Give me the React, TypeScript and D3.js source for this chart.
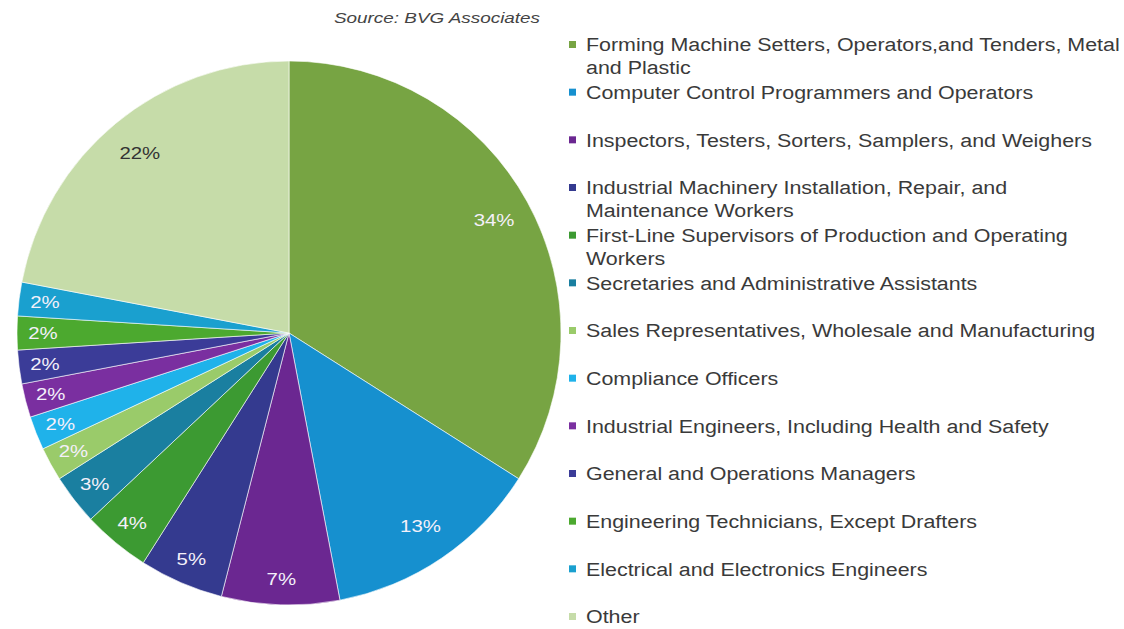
import * as d3 from 'd3';

const width = 1124;
const height = 629;
const cx = 289;
const cy = 333;
const radius = 272;
const stretch = 1.2; // source image is widened horizontally

const categories = [
  'Forming Machine Setters, Operators,and Tenders, Metal|and Plastic',
  'Computer Control Programmers and Operators',
  'Inspectors, Testers, Sorters, Samplers, and Weighers',
  'Industrial Machinery Installation, Repair, and|Maintenance Workers',
  'First-Line Supervisors of Production and Operating|Workers',
  'Secretaries and Administrative Assistants',
  'Sales Representatives, Wholesale and Manufacturing',
  'Compliance Officers',
  'Industrial Engineers, Including Health and Safety',
  'General and Operations Managers',
  'Engineering Technicians, Except Drafters',
  'Electrical and Electronics Engineers',
  'Other',
];
const shares = [34, 13, 7, 5, 4, 3, 2, 2, 2, 2, 2, 2, 22];
const colors = [
  '#77a443', '#1690cf', '#6b2791', '#343a8f', '#3c9a32', '#1a7fa0',
  '#9acb6a', '#1fb2ea', '#7a2fa0', '#3b3c98', '#4ca92f', '#1aa0cf', '#c6dca9',
];

type Item = { name: string; value: number; color: string };
const items: Item[] = categories.map((name, i) => ({ name, value: shares[i], color: colors[i] }));

export default function App() {
  const pie = d3.pie<Item>().value(d => d.value).sort(null);
  const arcs = pie(items);
  const arc = d3.arc<d3.PieArcDatum<Item>>().innerRadius(0).outerRadius(radius);
  const bigLabel = d3.arc<d3.PieArcDatum<Item>>().innerRadius(234).outerRadius(234);
  const smallLabel = d3.arc<d3.PieArcDatum<Item>>().innerRadius(246).outerRadius(246);

  const legendY = d3.scaleLinear().domain([0, categories.length - 1]).range([45, 617]);

  return (
    <svg width={width} height={height} style={{ position: 'absolute', left: 0, top: 0, background: '#fff' }}
      fontFamily="'Liberation Sans', Arial, sans-serif">
      <text transform={`translate(437,23) scale(${stretch + 0.06},1)`} textAnchor="middle"
        fontStyle="italic" fontSize={15} fill="#444">
        Source: BVG Associates
      </text>
      <g transform={`translate(${cx},${cy})`}>
        {arcs.map((a, i) => (
          <path key={i} d={arc(a) || ''} fill={a.data.color} stroke="#fff" strokeWidth={0.6} />
        ))}
        {arcs.map((a, i) => {
          const [x, y] = (a.data.value >= 10 ? bigLabel : smallLabel).centroid(a);
          return (
            <text key={i} transform={`translate(${x},${y}) scale(${stretch},1)`} dy="0.35em"
              textAnchor="middle" fontSize={17}
              fill={a.data.name === 'Other' ? '#333' : '#f4f0fa'}>
              {a.data.value}%
            </text>
          );
        })}
      </g>
      <g>
        {items.map((d, i) => {
          const y = legendY(i);
          const lines = d.name.split('|');
          return (
            <g key={i}>
              <rect x={569} y={y - 4} width={7} height={7} fill={d.color} />
              <g transform={`translate(586,0) scale(${stretch - 0.01},1)`}>
                {lines.map((l, j) => (
                  <text key={j} x={0} y={y + j * 23} dy="0.35em" fontSize={18} fill="#3a3a3a">{l}</text>
                ))}
              </g>
            </g>
          );
        })}
      </g>
    </svg>
  );
}
